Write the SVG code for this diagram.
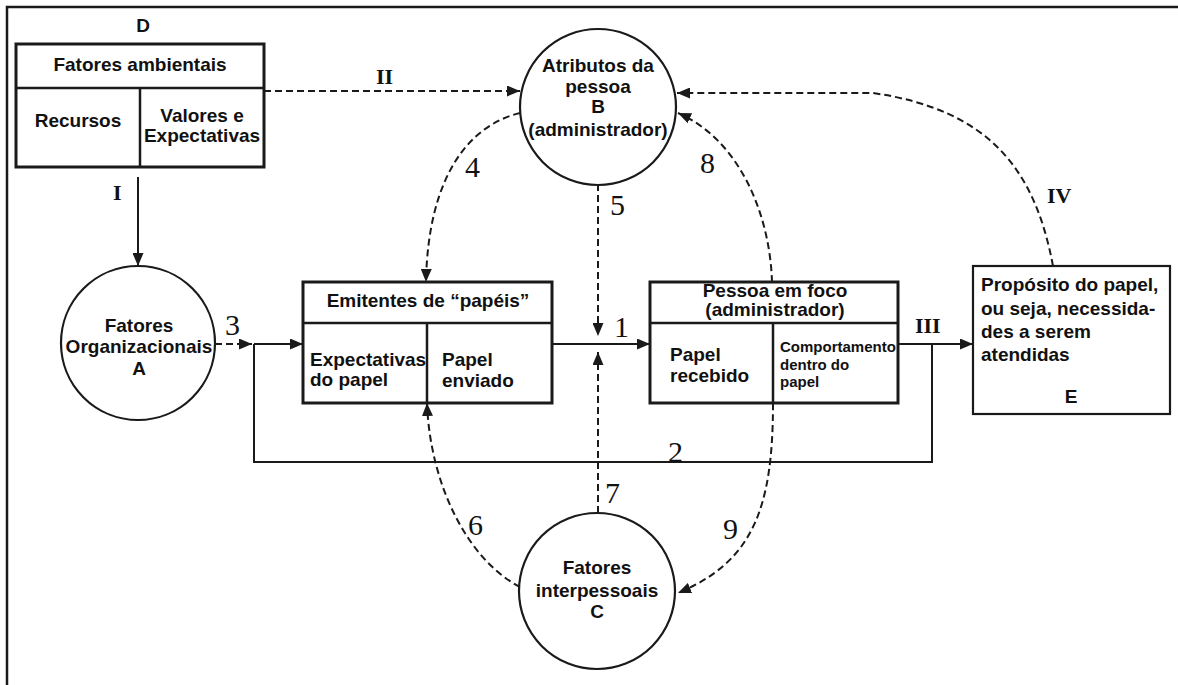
<svg xmlns="http://www.w3.org/2000/svg" width="1178" height="685" viewBox="0 0 1178 685">
  <style>
    .frame { fill: none; stroke: #1a1a1a; stroke-width: 2.5; }
    .box { fill: #fff; stroke: #1a1a1a; stroke-width: 3; }
    .thin { fill: #fff; stroke: #1a1a1a; stroke-width: 2.2; }
    .div { stroke: #1a1a1a; stroke-width: 2.5; fill: none; }
    .circ { fill: #fff; stroke: #1a1a1a; stroke-width: 2.2; }
    .solid { fill: none; stroke: #1a1a1a; stroke-width: 2; }
    .dash { fill: none; stroke: #1a1a1a; stroke-width: 2; stroke-dasharray: 7 4; }
    .lbl { font-family: "Liberation Sans", Arial, sans-serif; font-weight: bold; font-size: 19px; fill: #111; }
    .sm { font-size: 15px; }
    .c { text-anchor: middle; }
    .num { font-family: "Liberation Serif", "Times New Roman", serif; font-size: 30px; fill: #111; }
    .rom { font-family: "Liberation Serif", "Times New Roman", serif; font-weight: bold; font-size: 22px; fill: #111; }
  </style>
  <defs>
    <marker id="arr" markerUnits="userSpaceOnUse" markerWidth="13" markerHeight="11" refX="13" refY="5.5" orient="auto">
      <path d="M0,0 L13,5.5 L0,11 z" fill="#1a1a1a"/>
    </marker>
  </defs>

  <!-- outer frame: top and left edges -->
  <path class="frame" d="M7,685 L7,7 L1178,7"/>

  <!-- connectors -->
  <g id="connectors">
    <!-- I : environment to organisational factors -->
    <line class="solid" x1="138" y1="177" x2="138" y2="266" stroke-width="2.5" marker-end="url(#arr)"/>
    <!-- II : environment to person attributes -->
    <line class="dash" x1="264" y1="91" x2="520" y2="91" marker-end="url(#arr)"/>
    <!-- IV : purpose back to person attributes -->
    <path class="dash" d="M1053,266 C1035,170 990,110 873,93 L677,93" marker-end="url(#arr)"/>
    <!-- 8 -->
    <path class="dash" d="M772,282 C770,215 740,140 678,113" marker-end="url(#arr)"/>
    <!-- 4 -->
    <path class="dash" d="M520,113 C470,125 428,175 426,282" marker-end="url(#arr)"/>
    <!-- 5 -->
    <line class="dash" x1="598" y1="184" x2="598" y2="336" marker-end="url(#arr)"/>
    <!-- 7 -->
    <line class="dash" x1="598" y1="513" x2="598" y2="352" marker-end="url(#arr)"/>
    <!-- 6 -->
    <path class="dash" d="M520,587 C468,560 430,485 427,403" marker-end="url(#arr)"/>
    <!-- 9 -->
    <path class="dash" d="M773,403 C773,510 752,562 678,593" marker-end="url(#arr)"/>
    <!-- 3 -->
    <line class="dash" x1="215" y1="344" x2="252" y2="344" marker-end="url(#arr)"/>
    <!-- 1 -->
    <line class="solid" x1="552" y1="344" x2="650" y2="344" marker-end="url(#arr)"/>
    <!-- feedback loop 2 -->
    <path class="solid" d="M932,344 L932,462 L254,462 L254,344"/>
    <line class="solid" x1="254" y1="344" x2="303" y2="344" marker-end="url(#arr)"/>
    <!-- III -->
    <line class="solid" x1="898" y1="344" x2="973" y2="344" marker-end="url(#arr)"/>
  </g>

  <!-- connector labels -->
  <g id="labels">
    <text class="rom" x="113" y="200">I</text>
    <text class="rom" x="376" y="84">II</text>
    <text class="rom" x="915" y="333">III</text>
    <text class="rom" x="1047" y="203">IV</text>
    <text class="num" x="225" y="335">3</text>
    <text class="num" x="465" y="177">4</text>
    <text class="num" x="610" y="215">5</text>
    <text class="num" x="700" y="173">8</text>
    <text class="num" x="614" y="337">1</text>
    <text class="num" x="668" y="462">2</text>
    <text class="num" x="605" y="503">7</text>
    <text class="num" x="468" y="535">6</text>
    <text class="num" x="723" y="539">9</text>
  </g>

  <!-- D : environmental factors -->
  <g id="node-D">
    <text class="lbl c" x="143" y="32">D</text>
    <rect class="box" x="16" y="44" width="248" height="123"/>
    <line class="div" x1="16" y1="88" x2="264" y2="88"/>
    <line class="div" x1="140" y1="88" x2="140" y2="167"/>
    <text class="lbl c" x="140" y="71">Fatores ambientais</text>
    <text class="lbl c" x="78" y="127">Recursos</text>
    <text class="lbl c" x="202" y="122">Valores e</text>
    <text class="lbl c" x="202" y="142">Expectativas</text>
  </g>

  <!-- B : person attributes -->
  <g id="node-B">
    <circle class="circ" cx="598" cy="107" r="78"/>
    <text class="lbl c" x="598" y="72">Atributos da</text>
    <text class="lbl c" x="598" y="93">pessoa</text>
    <text class="lbl c" x="598" y="113">B</text>
    <text class="lbl c" x="598" y="136">(administrador)</text>
  </g>

  <!-- A : organisational factors -->
  <g id="node-A">
    <circle class="circ" cx="138" cy="343" r="77"/>
    <text class="lbl c" x="139" y="332">Fatores</text>
    <text class="lbl c" x="139" y="353">Organizacionais</text>
    <text class="lbl c" x="139" y="375">A</text>
  </g>

  <!-- role senders -->
  <g id="node-emitentes">
    <rect class="box" x="303" y="282" width="249" height="121"/>
    <line class="div" x1="303" y1="323" x2="552" y2="323"/>
    <line class="div" x1="427" y1="323" x2="427" y2="403" stroke-width="3"/>
    <text class="lbl c" x="428" y="307">Emitentes de “papéis”</text>
    <text class="lbl" x="310" y="366">Expectativas</text>
    <text class="lbl" x="310" y="386">do papel</text>
    <text class="lbl" x="442" y="366">Papel</text>
    <text class="lbl" x="442" y="387">enviado</text>
  </g>

  <!-- focal person -->
  <g id="node-pessoa">
    <rect class="box" x="650" y="282" width="248" height="121"/>
    <line class="div" x1="650" y1="323" x2="898" y2="323"/>
    <line class="div" x1="773" y1="323" x2="773" y2="403"/>
    <text class="lbl c" x="775" y="297">Pessoa em foco</text>
    <text class="lbl c" x="775" y="316">(administrador)</text>
    <text class="lbl" x="670" y="361">Papel</text>
    <text class="lbl" x="670" y="382">recebido</text>
    <text class="lbl sm" x="780" y="352">Comportamento</text>
    <text class="lbl sm" x="780" y="370">dentro do</text>
    <text class="lbl sm" x="780" y="387">papel</text>
  </g>

  <!-- E : role purpose -->
  <g id="node-E">
    <rect class="thin" x="973" y="266" width="197" height="148"/>
    <text class="lbl" x="981" y="291">Propósito do papel,</text>
    <text class="lbl" x="981" y="315">ou seja, necessida-</text>
    <text class="lbl" x="981" y="338">des a serem</text>
    <text class="lbl" x="981" y="361">atendidas</text>
    <text class="lbl c" x="1071" y="403">E</text>
  </g>

  <!-- C : interpersonal factors -->
  <g id="node-C">
    <circle class="circ" cx="597" cy="591" r="78"/>
    <text class="lbl c" x="597" y="574">Fatores</text>
    <text class="lbl c" x="597" y="597">interpessoais</text>
    <text class="lbl c" x="597" y="618">C</text>
  </g>
</svg>
